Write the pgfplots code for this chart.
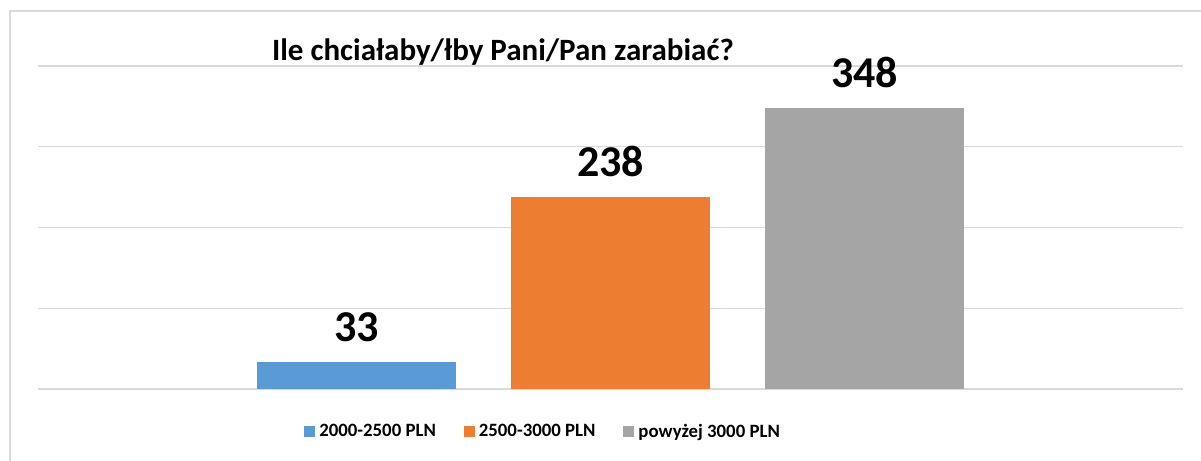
\documentclass[border=0pt]{standalone}
\usepackage{pgfplots}
\pgfplotsset{compat=1.18}
\usepackage{fontspec}
\setmainfont{Carlito}
\definecolor{cblue}{HTML}{5B9BD5}
\definecolor{corange}{HTML}{ED7D31}
\definecolor{cgrey}{HTML}{A5A5A5}
\definecolor{cgrid}{HTML}{D9D9D9}
\begin{document}
\begin{tikzpicture}
\path[use as bounding box] (-19pt,-36pt) rectangle (581.5pt,194.5pt);
\draw[cgrid, line width=0.8pt] (-14pt,-40pt) -- (-14pt,189pt) -- (590pt,189pt);
\begin{axis}[
  scale only axis,
  width=572.5pt, height=161.5pt,
  xmin=-1.254, xmax=3.254,
  ymin=0, ymax=400,
  ytick={0,100,200,300,400},
  yticklabels={},
  xtick=\empty,
  major tick length=0pt,
  axis line style={draw=none},
  ymajorgrids,
  grid style={cgrid, line width=0.7pt},
  ybar,
  bar width=0.783,
  nodes near coords,
  /pgf/number format/assume math mode=true,
  every node near coord/.append style={font=\fontsize{22}{26}\selectfont\bfseries, black, yshift=6.5pt},
  title={Ile chciałaby/łby Pani/Pan zarabiać?},
  title style={at={(0.406,1.006)}, anchor=center, yshift=0pt, font=\fontsize{15.5}{18}\selectfont\bfseries},
  legend columns=3,
  legend style={at={(0.442,-0.133)}, anchor=center, draw=none, font=\fontsize{9.4}{11}\selectfont\bfseries,
    /tikz/every even column/.append style={column sep=12pt}, inner sep=0pt},
  legend image code/.code={\draw[#1,/tikz/.cd,draw=none] (0pt,-2.75pt) rectangle (5.5pt,2.75pt);},
]
\addplot[fill=cblue, draw=none, bar shift=0pt] coordinates {(0,33)};
\addplot[fill=corange, draw=none, bar shift=0pt] coordinates {(1,238)};
\addplot[fill=cgrey, draw=none, bar shift=0pt] coordinates {(2,348)};
\legend{2000-2500 PLN, 2500-3000 PLN, powyżej 3000 PLN}
\end{axis}
\end{tikzpicture}
\end{document}
